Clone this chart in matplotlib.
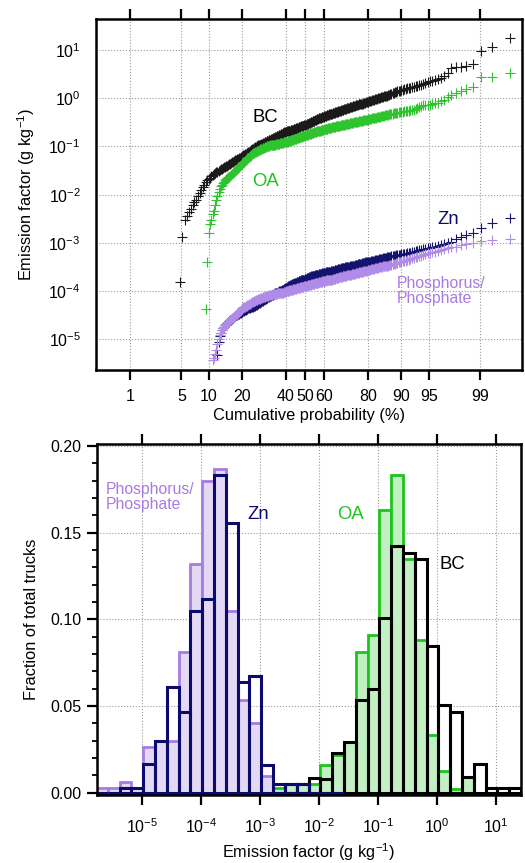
"""
Truck emission factors: cumulative probability plot (top) and
histograms of the fraction of trucks per emission-factor bin (bottom).
"""
from statistics import NormalDist

import numpy as np
import matplotlib
matplotlib.use("Agg")
import matplotlib.pyplot as plt
from matplotlib.ticker import (FixedLocator, FormatStrFormatter, LogFormatterMathtext,
                               LogLocator, MultipleLocator, NullLocator)

plt.rcParams['font.family'] = ['Liberation Sans', 'DejaVu Sans']
plt.rcParams['mathtext.default'] = 'regular'

# total number of trucks (values <= 0 are not drawn on the log axis)
N_TRUCKS = 310

# sorted log10 emission factors (g/kg) of the trucks with positive values
BC_LOG_EF = [
    -3.81, -2.87, -2.53, -2.44, -2.36, -2.29, -2.22, -2.16, -2.11, -2.03,
    -1.97, -1.90, -1.84, -1.79, -1.74, -1.70, -1.68, -1.65, -1.62, -1.60,
    -1.58, -1.56, -1.54, -1.52, -1.51, -1.49, -1.47, -1.46, -1.45, -1.43,
    -1.42, -1.41, -1.40, -1.38, -1.37, -1.36, -1.34, -1.33, -1.32, -1.30,
    -1.29, -1.28, -1.27, -1.26, -1.25, -1.23, -1.22, -1.21, -1.19, -1.18,
    -1.17, -1.16, -1.15, -1.14, -1.13, -1.12, -1.11, -1.10, -1.08, -1.07,
    -1.06, -1.05, -1.04, -1.03, -1.02, -1.01, -1.00, -0.99, -0.98, -0.98,
    -0.97, -0.96, -0.95, -0.94, -0.94, -0.93, -0.92, -0.91, -0.91, -0.90,
    -0.89, -0.89, -0.88, -0.87, -0.87, -0.86, -0.85, -0.85, -0.84, -0.83,
    -0.83, -0.82, -0.81, -0.81, -0.80, -0.79, -0.79, -0.78, -0.77, -0.77,
    -0.76, -0.75, -0.75, -0.74, -0.73, -0.73, -0.72, -0.71, -0.71, -0.70,
    -0.70, -0.69, -0.69, -0.68, -0.68, -0.67, -0.67, -0.66, -0.66, -0.66,
    -0.65, -0.65, -0.64, -0.64, -0.63, -0.63, -0.62, -0.62, -0.61, -0.61,
    -0.60, -0.60, -0.59, -0.59, -0.58, -0.58, -0.58, -0.57, -0.57, -0.56,
    -0.56, -0.56, -0.55, -0.54, -0.54, -0.53, -0.53, -0.52, -0.51, -0.51,
    -0.50, -0.50, -0.49, -0.48, -0.48, -0.47, -0.47, -0.46, -0.45, -0.45,
    -0.44, -0.44, -0.43, -0.42, -0.42, -0.41, -0.41, -0.40, -0.39, -0.39,
    -0.38, -0.38, -0.37, -0.37, -0.36, -0.36, -0.35, -0.35, -0.34, -0.34,
    -0.33, -0.33, -0.33, -0.32, -0.32, -0.31, -0.31, -0.30, -0.30, -0.29,
    -0.29, -0.28, -0.28, -0.28, -0.27, -0.27, -0.26, -0.26, -0.25, -0.25,
    -0.24, -0.24, -0.23, -0.23, -0.22, -0.22, -0.21, -0.21, -0.20, -0.20,
    -0.19, -0.19, -0.18, -0.18, -0.17, -0.17, -0.16, -0.16, -0.15, -0.15,
    -0.14, -0.14, -0.13, -0.13, -0.12, -0.12, -0.11, -0.11, -0.10, -0.10,
    -0.09, -0.08, -0.08, -0.07, -0.07, -0.06, -0.05, -0.05, -0.04, -0.03,
    -0.03, -0.02, -0.01, -0.01, 0.00, 0.01, 0.01, 0.02, 0.03, 0.03,
    0.04, 0.04, 0.05, 0.05, 0.06, 0.07, 0.08, 0.09, 0.10, 0.11,
    0.12, 0.13, 0.14, 0.15, 0.16, 0.17, 0.18, 0.19, 0.20, 0.21,
    0.22, 0.22, 0.23, 0.24, 0.25, 0.26, 0.27, 0.28, 0.30, 0.31,
    0.33, 0.35, 0.36, 0.38, 0.40, 0.42, 0.46, 0.52, 0.63, 0.65,
    0.65, 0.66, 0.72, 0.98, 1.07, 1.25,
]

OA_LOG_EF = [
    -4.38, -3.39, -2.80, -2.60, -2.53, -2.41, -2.33, -2.22, -2.11, -2.03,
    -1.95, -1.89, -1.83, -1.79, -1.76, -1.73, -1.70, -1.68, -1.66, -1.64,
    -1.63, -1.61, -1.59, -1.57, -1.55, -1.53, -1.51, -1.49, -1.47, -1.45,
    -1.43, -1.41, -1.39, -1.37, -1.35, -1.33, -1.32, -1.30, -1.28, -1.27,
    -1.25, -1.23, -1.22, -1.20, -1.19, -1.17, -1.16, -1.14, -1.13, -1.13,
    -1.12, -1.11, -1.10, -1.10, -1.09, -1.08, -1.07, -1.06, -1.06, -1.05,
    -1.04, -1.04, -1.03, -1.02, -1.02, -1.01, -1.00, -1.00, -0.99, -0.99,
    -0.99, -0.98, -0.98, -0.98, -0.97, -0.97, -0.97, -0.96, -0.96, -0.96,
    -0.95, -0.95, -0.95, -0.94, -0.94, -0.94, -0.93, -0.93, -0.93, -0.92,
    -0.92, -0.92, -0.91, -0.91, -0.91, -0.91, -0.90, -0.90, -0.90, -0.89,
    -0.89, -0.88, -0.88, -0.88, -0.87, -0.87, -0.86, -0.86, -0.85, -0.85,
    -0.85, -0.84, -0.84, -0.83, -0.83, -0.82, -0.82, -0.81, -0.81, -0.80,
    -0.80, -0.80, -0.79, -0.79, -0.78, -0.78, -0.78, -0.77, -0.77, -0.77,
    -0.76, -0.76, -0.75, -0.75, -0.74, -0.74, -0.74, -0.73, -0.73, -0.72,
    -0.72, -0.71, -0.71, -0.70, -0.70, -0.70, -0.69, -0.69, -0.68, -0.68,
    -0.67, -0.67, -0.67, -0.66, -0.66, -0.65, -0.65, -0.65, -0.64, -0.64,
    -0.64, -0.63, -0.63, -0.63, -0.62, -0.62, -0.62, -0.61, -0.61, -0.61,
    -0.60, -0.60, -0.60, -0.59, -0.59, -0.59, -0.58, -0.58, -0.58, -0.57,
    -0.57, -0.57, -0.57, -0.56, -0.56, -0.56, -0.56, -0.55, -0.55, -0.55,
    -0.54, -0.54, -0.54, -0.53, -0.53, -0.53, -0.52, -0.52, -0.52, -0.51,
    -0.51, -0.51, -0.50, -0.50, -0.50, -0.49, -0.49, -0.49, -0.48, -0.48,
    -0.48, -0.47, -0.47, -0.47, -0.46, -0.46, -0.46, -0.45, -0.45, -0.45,
    -0.44, -0.44, -0.43, -0.43, -0.42, -0.42, -0.41, -0.40, -0.40, -0.39,
    -0.39, -0.38, -0.38, -0.37, -0.37, -0.36, -0.36, -0.35, -0.35, -0.34,
    -0.34, -0.33, -0.33, -0.32, -0.32, -0.31, -0.31, -0.30, -0.30, -0.29,
    -0.29, -0.28, -0.28, -0.27, -0.27, -0.26, -0.26, -0.25, -0.25, -0.24,
    -0.22, -0.20, -0.18, -0.16, -0.15, -0.15, -0.14, -0.14, -0.12, -0.10,
    -0.09, -0.06, -0.03, 0.02, 0.07, 0.10, 0.15, 0.19, 0.24, 0.44,
    0.45, 0.53,
]

ZN_LOG_EF = [
    -5.33, -5.05, -4.93, -4.86, -4.81, -4.77, -4.74, -4.71, -4.69, -4.66,
    -4.64, -4.62, -4.60, -4.59, -4.57, -4.55, -4.53, -4.52, -4.50, -4.49,
    -4.48, -4.47, -4.46, -4.45, -4.44, -4.43, -4.42, -4.41, -4.40, -4.39,
    -4.38, -4.37, -4.36, -4.36, -4.35, -4.34, -4.33, -4.32, -4.32, -4.31,
    -4.30, -4.30, -4.29, -4.28, -4.27, -4.26, -4.25, -4.24, -4.23, -4.22,
    -4.21, -4.20, -4.19, -4.18, -4.17, -4.16, -4.16, -4.15, -4.14, -4.13,
    -4.12, -4.11, -4.11, -4.10, -4.09, -4.08, -4.08, -4.07, -4.06, -4.05,
    -4.05, -4.04, -4.03, -4.03, -4.02, -4.01, -4.00, -4.00, -3.99, -3.99,
    -3.98, -3.97, -3.97, -3.96, -3.95, -3.94, -3.94, -3.93, -3.92, -3.91,
    -3.90, -3.90, -3.89, -3.88, -3.87, -3.87, -3.86, -3.86, -3.85, -3.85,
    -3.84, -3.84, -3.83, -3.83, -3.82, -3.81, -3.81, -3.80, -3.80, -3.79,
    -3.79, -3.78, -3.78, -3.77, -3.77, -3.76, -3.76, -3.75, -3.74, -3.74,
    -3.73, -3.73, -3.72, -3.72, -3.71, -3.71, -3.70, -3.70, -3.69, -3.69,
    -3.69, -3.68, -3.68, -3.68, -3.67, -3.67, -3.67, -3.66, -3.66, -3.66,
    -3.65, -3.65, -3.65, -3.64, -3.64, -3.64, -3.63, -3.63, -3.63, -3.62,
    -3.62, -3.62, -3.61, -3.61, -3.61, -3.61, -3.60, -3.60, -3.60, -3.60,
    -3.59, -3.59, -3.59, -3.58, -3.58, -3.57, -3.57, -3.57, -3.56, -3.56,
    -3.55, -3.55, -3.55, -3.54, -3.54, -3.53, -3.53, -3.53, -3.52, -3.52,
    -3.52, -3.51, -3.51, -3.51, -3.50, -3.50, -3.50, -3.50, -3.49, -3.49,
    -3.48, -3.48, -3.47, -3.47, -3.46, -3.46, -3.45, -3.45, -3.44, -3.44,
    -3.43, -3.43, -3.43, -3.42, -3.42, -3.41, -3.41, -3.40, -3.40, -3.40,
    -3.39, -3.39, -3.39, -3.39, -3.38, -3.38, -3.37, -3.37, -3.36, -3.36,
    -3.35, -3.35, -3.34, -3.34, -3.33, -3.33, -3.32, -3.32, -3.31, -3.31,
    -3.30, -3.30, -3.29, -3.29, -3.28, -3.28, -3.27, -3.27, -3.26, -3.26,
    -3.25, -3.25, -3.24, -3.24, -3.23, -3.23, -3.22, -3.21, -3.20, -3.19,
    -3.18, -3.17, -3.16, -3.15, -3.14, -3.13, -3.12, -3.11, -3.10, -3.09,
    -3.08, -3.06, -3.05, -3.03, -3.01, -2.98, -2.91, -2.87, -2.84, -2.79,
    -2.70, -2.58, -2.49,
]

P_LOG_EF = [
    -5.42, -5.38, -5.31, -5.22, -5.10, -5.00, -4.92, -4.86, -4.81, -4.77,
    -4.74, -4.71, -4.68, -4.66, -4.64, -4.62, -4.60, -4.58, -4.56, -4.55,
    -4.53, -4.51, -4.49, -4.47, -4.45, -4.43, -4.41, -4.39, -4.37, -4.35,
    -4.34, -4.33, -4.32, -4.31, -4.30, -4.29, -4.28, -4.27, -4.26, -4.25,
    -4.24, -4.23, -4.22, -4.21, -4.21, -4.20, -4.19, -4.19, -4.18, -4.17,
    -4.17, -4.16, -4.15, -4.15, -4.14, -4.13, -4.13, -4.12, -4.12, -4.11,
    -4.11, -4.10, -4.10, -4.10, -4.09, -4.09, -4.09, -4.08, -4.08, -4.08,
    -4.07, -4.07, -4.07, -4.06, -4.06, -4.06, -4.06, -4.05, -4.05, -4.05,
    -4.04, -4.04, -4.04, -4.04, -4.03, -4.03, -4.03, -4.02, -4.02, -4.01,
    -4.01, -4.00, -4.00, -4.00, -3.99, -3.99, -3.98, -3.98, -3.98, -3.97,
    -3.97, -3.97, -3.96, -3.96, -3.96, -3.95, -3.95, -3.95, -3.94, -3.94,
    -3.94, -3.93, -3.93, -3.93, -3.92, -3.92, -3.92, -3.91, -3.91, -3.91,
    -3.90, -3.90, -3.90, -3.89, -3.89, -3.89, -3.88, -3.88, -3.88, -3.88,
    -3.87, -3.87, -3.86, -3.86, -3.86, -3.85, -3.85, -3.85, -3.84, -3.84,
    -3.84, -3.83, -3.83, -3.83, -3.82, -3.82, -3.82, -3.81, -3.81, -3.81,
    -3.80, -3.80, -3.80, -3.79, -3.79, -3.79, -3.78, -3.78, -3.78, -3.78,
    -3.77, -3.77, -3.77, -3.76, -3.76, -3.76, -3.75, -3.75, -3.74, -3.74,
    -3.74, -3.73, -3.73, -3.72, -3.72, -3.72, -3.71, -3.71, -3.71, -3.70,
    -3.70, -3.69, -3.69, -3.69, -3.68, -3.68, -3.68, -3.67, -3.67, -3.67,
    -3.67, -3.67, -3.66, -3.66, -3.65, -3.65, -3.65, -3.64, -3.64, -3.63,
    -3.63, -3.62, -3.62, -3.62, -3.61, -3.61, -3.60, -3.60, -3.60, -3.59,
    -3.59, -3.58, -3.58, -3.58, -3.57, -3.57, -3.56, -3.56, -3.55, -3.55,
    -3.54, -3.54, -3.53, -3.53, -3.52, -3.52, -3.51, -3.51, -3.50, -3.50,
    -3.49, -3.49, -3.48, -3.48, -3.47, -3.47, -3.46, -3.46, -3.45, -3.44,
    -3.44, -3.43, -3.42, -3.41, -3.40, -3.40, -3.39, -3.38, -3.37, -3.37,
    -3.36, -3.35, -3.34, -3.32, -3.31, -3.30, -3.29, -3.28, -3.27, -3.25,
    -3.24, -3.22, -3.21, -3.19, -3.18, -3.16, -3.15, -3.13, -3.11, -3.09,
    -3.08, -3.05, -3.03, -3.01, -2.96, -2.94, -2.91,
]

# probability axis ticks (%)
PROB_TICKS = [1, 5, 10, 20, 40, 50, 60, 80, 90, 95, 99]

# histogram bins: 0.2 decade wide, first lower edge at 10^-5.775 g/kg
HIST_BIN_START = -5.775
HIST_BIN_WIDTH = 0.2

# fraction of total trucks per bin, starting at bin index *_FIRST_BIN
P_FIRST_BIN = 0
P_FRAC = [0.003, 0.003, 0.006, 0.003, 0.0265, 0.030, 0.030, 0.081, 0.132, 0.180,
          0.1866, 0.105, 0.0534, 0.040, 0.0097]

ZN_FIRST_BIN = 0
ZN_FRAC = [0.0, 0.0, 0.003, 0.003, 0.0163, 0.030, 0.0607, 0.0467, 0.105, 0.1116,
           0.183, 0.1556, 0.064, 0.0672, 0.0161, 0.0048, 0.0048, 0.0048, 0.0, 0.0,
           0.0]

OA_FIRST_BIN = 7
OA_FRAC = [0.003, 0.0, 0.0, 0.0, 0.003, 0.0, 0.0, 0.003, 0.0025, 0.0048,
           0.0048, 0.005, 0.0158, 0.022, 0.029, 0.081, 0.0912, 0.163, 0.183, 0.135,
           0.088, 0.0332, 0.0125, 0.0022, 0.0092]

BC_FIRST_BIN = 9
BC_FRAC = [0.003, 0.0, 0.0, 0.0, 0.0, 0.003, 0.0, 0.0048, 0.0048, 0.0086,
           0.008, 0.0228, 0.0295, 0.0534, 0.060, 0.101, 0.142, 0.1385, 0.135, 0.0845,
           0.0505, 0.0467, 0.0092, 0.0163, 0.0028, 0.0028, 0.0028]

BC_COLOR = '#000000'
OA_COLOR = '#1EC41E'
OA_FILL = '#C3F0C3'
ZN_COLOR = '#0B0B6E'
P_COLOR = '#A77BE4'
P_FILL = '#E3D9F5'

_NORM = NormalDist()


def pct_to_z(pct):
    """Normal-probability transform used for the cumulative axis."""
    pct = np.clip(np.asarray(pct, dtype=float), 1e-9, 100 - 1e-9)
    return np.vectorize(lambda v: _NORM.inv_cdf(v / 100.0), otypes=[float])(pct)


def z_to_pct(z):
    return np.vectorize(lambda v: 100.0 * _NORM.cdf(v), otypes=[float])(np.asarray(z, dtype=float))


def style_frame(ax):
    for spine in ax.spines.values():
        spine.set_linewidth(1.8)
        spine.set_color('black')


def plot_probability(ax):
    # plotting position rank/(N+1); the lowest ranks are trucks with EF <= 0
    series = [(BC_LOG_EF, '#1a1a1a'), (OA_LOG_EF, '#2DC42D'),
              (ZN_LOG_EF, '#14146E'), (P_LOG_EF, '#B18BE8')]
    for log_ef, color in series:
        vals = np.sort(np.asarray(log_ef))
        ranks = np.arange(N_TRUCKS - len(vals) + 1, N_TRUCKS + 1)
        pct = 100.0 * ranks / (N_TRUCKS + 1)
        ax.plot(pct, 10.0 ** vals, linestyle='none', marker='+', markersize=7,
                markeredgewidth=0.8, color=color)

    ax.set_xscale('function', functions=(pct_to_z, z_to_pct))
    ax.set_yscale('log')
    ax.set_xlim(0.272, 99.805)
    ax.set_ylim(10 ** -5.637, 10 ** 1.637)

    ax.xaxis.set_major_locator(FixedLocator(PROB_TICKS))
    ax.set_xticklabels([str(t) for t in PROB_TICKS])
    ax.xaxis.set_minor_locator(NullLocator())
    ax.yaxis.set_major_locator(LogLocator(base=10, numticks=20))
    ax.yaxis.set_major_formatter(LogFormatterMathtext())
    ax.yaxis.set_minor_locator(NullLocator())

    ax.tick_params(axis='x', which='major', direction='out', length=7.2, width=1.6,
                   top=True, bottom=True, labelsize=11.5, pad=6.5)
    ax.tick_params(axis='y', which='major', length=0, labelsize=11.5, pad=11)
    ax.grid(True, which='major', linestyle=':', color='#9a9a9a', linewidth=0.8)
    ax.set_axisbelow(True)

    ax.set_xlabel('Cumulative probability (%)', fontsize=11.8, labelpad=3)
    ax.set_ylabel('Emission factor (g kg$^{-1}$)', fontsize=11.8, labelpad=8)

    ax.text(0.398, 0.72, 'BC', transform=ax.transAxes, color=BC_COLOR,
            fontsize=13.3, ha='center', va='center')
    ax.text(0.398, 0.537, 'OA', transform=ax.transAxes, color=OA_COLOR,
            fontsize=13.3, ha='center', va='center')
    ax.text(0.827, 0.43, 'Zn', transform=ax.transAxes, color=ZN_COLOR,
            fontsize=13.3, ha='center', va='center')
    ax.text(0.706, 0.226, 'Phosphorus/\nPhosphate', transform=ax.transAxes,
            color=P_COLOR, fontsize=11.3, ha='left', va='center', linespacing=1.0)
    style_frame(ax)


def draw_hist(ax, fractions, first_bin, face, edge, lw):
    idx = first_bin + np.arange(len(fractions))
    lo = 10.0 ** (HIST_BIN_START + HIST_BIN_WIDTH * idx)
    hi = 10.0 ** (HIST_BIN_START + HIST_BIN_WIDTH * (idx + 1))
    ax.bar(lo, fractions, width=hi - lo, align='edge', facecolor=face,
           edgecolor=edge, linewidth=lw)


def plot_histograms(ax):
    draw_hist(ax, OA_FRAC, OA_FIRST_BIN, OA_FILL, OA_COLOR, 2.0)
    draw_hist(ax, BC_FRAC, BC_FIRST_BIN, 'none', BC_COLOR, 2.2)
    draw_hist(ax, P_FRAC, P_FIRST_BIN, P_FILL, P_COLOR, 2.0)
    draw_hist(ax, ZN_FRAC, ZN_FIRST_BIN, 'none', ZN_COLOR, 2.2)

    ax.set_xscale('log')
    ax.set_xlim(10 ** -5.757, 10 ** 1.423)
    ax.set_ylim(-0.0013, 0.2011)

    ax.xaxis.set_major_locator(FixedLocator([10.0 ** e for e in range(-5, 2)]))
    ax.xaxis.set_major_formatter(LogFormatterMathtext())
    ax.xaxis.set_minor_locator(NullLocator())
    ax.yaxis.set_major_locator(MultipleLocator(0.05))
    ax.yaxis.set_minor_locator(MultipleLocator(0.01))
    ax.yaxis.set_major_formatter(FormatStrFormatter('%.2f'))

    ax.tick_params(axis='x', which='major', direction='out', length=7.2, width=1.6,
                   top=True, bottom=True, labelsize=11.5, pad=9)
    ax.tick_params(axis='y', which='major', direction='out', length=7.2, width=1.6,
                   labelsize=11.5, pad=4)
    ax.tick_params(axis='y', which='minor', direction='out', length=3.6, width=1.3)
    ax.grid(True, which='major', linestyle=':', color='#9a9a9a', linewidth=0.8)
    ax.set_axisbelow(True)

    ax.set_xlabel('Emission factor (g kg$^{-1}$)', fontsize=11.8, labelpad=4)
    ax.set_ylabel('Fraction of total trucks', fontsize=11.8, labelpad=8)

    ax.text(0.021, 0.85, 'Phosphorus/\nPhosphate', transform=ax.transAxes,
            color=P_COLOR, fontsize=11.3, ha='left', va='center', linespacing=1.0)
    ax.text(0.38, 0.798, 'Zn', transform=ax.transAxes, color=ZN_COLOR,
            fontsize=13.3, ha='center', va='center')
    ax.text(0.5975, 0.798, 'OA', transform=ax.transAxes, color=OA_COLOR,
            fontsize=13.3, ha='center', va='center')
    ax.text(0.838, 0.658, 'BC', transform=ax.transAxes, color=BC_COLOR,
            fontsize=13.3, ha='center', va='center')
    style_frame(ax)


fig = plt.figure(figsize=(5.25, 8.63), dpi=100)
ax_top = fig.add_axes([0.18286, 0.57126, 0.81143, 0.40637])
ax_bot = fig.add_axes([0.18476, 0.07879, 0.80762, 0.40672])

plot_probability(ax_top)
plot_histograms(ax_bot)

fig.savefig('out.png', dpi=100)
